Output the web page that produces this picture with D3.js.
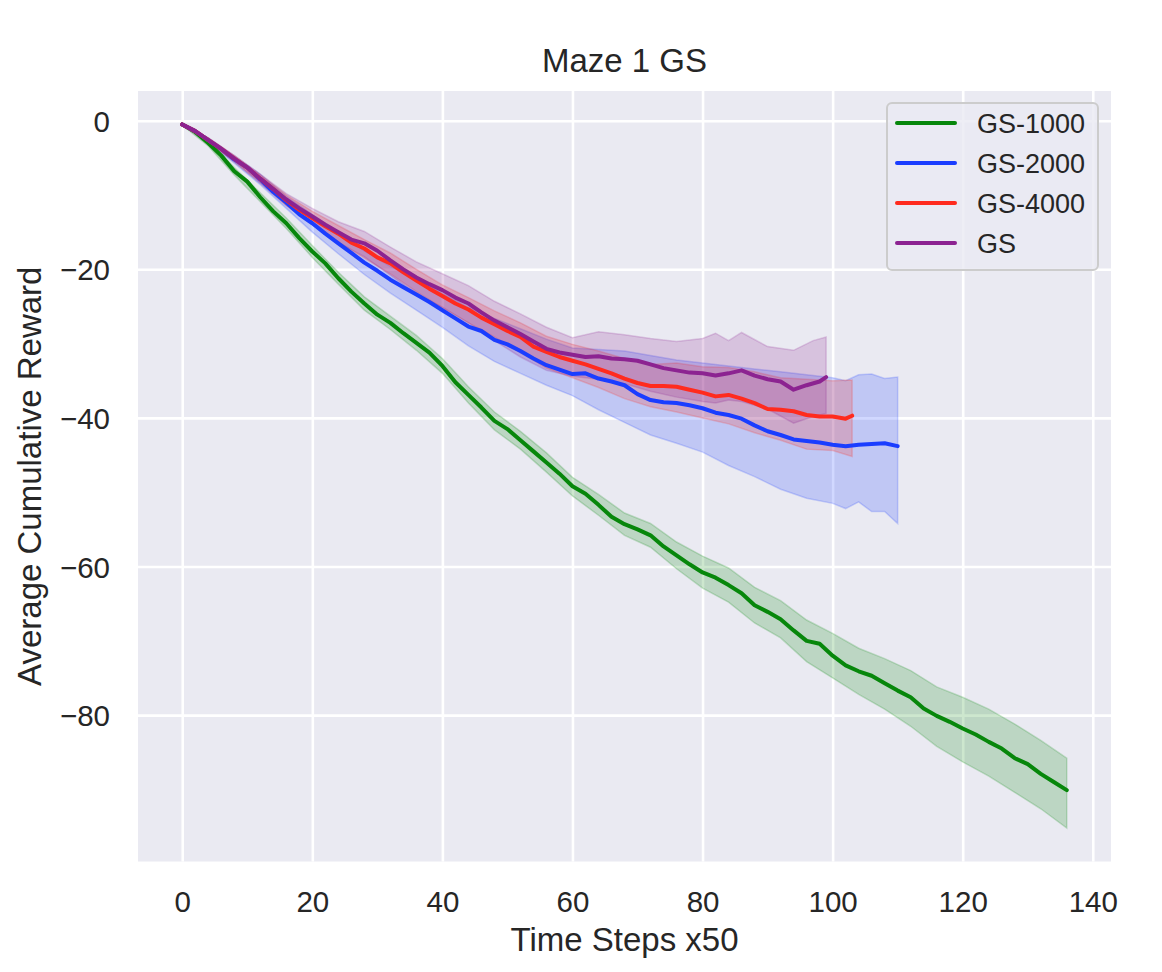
<!DOCTYPE html>
<html>
<head>
<meta charset="utf-8">
<script src="https://cdn.jsdelivr.net/npm/d3@7/dist/d3.min.js"></script>
<style>
  html, body { margin: 0; padding: 0; background: #fff; }
  svg { display: block; font-family: "Liberation Sans", Arial, sans-serif; }
</style>
</head>
<body>
<div id="chart"></div>
<script>
// mean curves, [time step, reward]
const gs1000 = [
  [0, -0.5], [2, -1.5], [4, -3.0], [6, -4.7], [8, -6.8], [10, -8.2], [12, -10.3], [14, -12.2],
  [16, -13.8], [18, -15.8], [20, -17.6], [22, -19.2], [24, -21.2], [26, -23.0], [28, -24.6],
  [30, -26.1], [32, -27.2], [34, -28.6], [36, -29.9], [38, -31.2], [40, -33.0], [42, -35.2],
  [44, -36.9], [46, -38.6], [48, -40.4], [50, -41.5], [52, -43.0], [54, -44.5], [56, -46.0],
  [58, -47.5], [60, -49.2], [62, -50.2], [64, -51.7], [66, -53.3], [68, -54.3], [70, -55.0],
  [72, -55.8], [74, -57.3], [76, -58.5], [78, -59.7], [80, -60.8], [82, -61.5], [84, -62.5],
  [86, -63.6], [88, -65.2], [90, -66.1], [92, -67.1], [94, -68.6], [96, -70.0], [98, -70.4],
  [100, -72.0], [102, -73.3], [104, -74.1], [106, -74.7], [108, -75.7], [110, -76.7],
  [112, -77.6], [114, -79.1], [116, -80.1], [118, -80.9], [120, -81.8], [122, -82.6],
  [124, -83.6], [126, -84.5], [128, -85.8], [130, -86.6], [132, -87.9], [134, -89.0], [136, -90.1]
];
const gs2000 = [
  [0, -0.5], [2, -1.4], [4, -2.6], [6, -3.8], [8, -5.2], [10, -6.3], [12, -7.9], [14, -9.6],
  [16, -11.0], [18, -12.6], [20, -13.8], [22, -15.2], [24, -16.5], [26, -17.8], [28, -19.1],
  [30, -20.2], [32, -21.4], [34, -22.4], [36, -23.4], [38, -24.4], [40, -25.5], [42, -26.6],
  [44, -27.7], [46, -28.3], [48, -29.5], [50, -30.1], [52, -31.0], [54, -32.0], [56, -32.9],
  [58, -33.5], [60, -34.1], [62, -34.0], [64, -34.7], [66, -35.1], [68, -35.6], [70, -36.8],
  [72, -37.6], [74, -37.9], [76, -38.0], [78, -38.3], [80, -38.7], [82, -39.3], [84, -39.6],
  [86, -40.1], [88, -41.0], [90, -41.8], [92, -42.3], [94, -42.9], [96, -43.1], [98, -43.3],
  [100, -43.6], [102, -43.8], [104, -43.6], [106, -43.5], [108, -43.4], [110, -43.8]
];
const gs4000 = [
  [0, -0.5], [2, -1.4], [4, -2.6], [6, -3.8], [8, -5.1], [10, -6.3], [12, -7.8], [14, -9.2],
  [16, -10.7], [18, -12.0], [20, -13.1], [22, -14.2], [24, -15.2], [26, -16.4], [28, -17.2],
  [30, -18.4], [32, -19.2], [34, -20.4], [36, -21.5], [38, -22.6], [40, -23.6], [42, -24.6],
  [44, -25.4], [46, -26.5], [48, -27.4], [50, -28.3], [52, -29.1], [54, -30.4], [56, -31.1],
  [58, -31.8], [60, -32.3], [62, -32.8], [64, -33.4], [66, -34.0], [68, -34.7], [70, -35.3],
  [72, -35.7], [74, -35.7], [76, -35.8], [78, -36.2], [80, -36.6], [82, -37.1], [84, -36.9],
  [86, -37.4], [88, -38.0], [90, -38.8], [92, -38.9], [94, -39.1], [96, -39.6], [98, -39.8],
  [100, -39.8], [102, -40.1], [103, -39.7]
];
const gsPlain = [
  [0, -0.5], [2, -1.4], [4, -2.6], [6, -3.8], [8, -5.1], [10, -6.3], [12, -7.8], [14, -9.2],
  [16, -10.6], [18, -11.8], [20, -12.9], [22, -14.0], [24, -15.0], [26, -16.0], [28, -16.5],
  [30, -17.5], [32, -18.8], [34, -20.0], [36, -21.1], [38, -22.0], [40, -22.8], [42, -23.8],
  [44, -24.6], [46, -25.8], [48, -26.9], [50, -27.8], [52, -28.7], [54, -29.7], [56, -30.7],
  [58, -31.2], [60, -31.5], [62, -31.8], [64, -31.7], [66, -32.0], [68, -32.1], [70, -32.3],
  [72, -32.8], [74, -33.3], [76, -33.6], [78, -33.9], [80, -34.0], [82, -34.3], [84, -34.0],
  [86, -33.6], [88, -34.3], [90, -34.8], [92, -35.1], [94, -36.2], [96, -35.6], [98, -35.1],
  [99, -34.5]
];

// shaded spread, [time step, lower, upper]
const band1000 = [
  [0, -0.6, -0.4], [4, -3.4, -2.6], [8, -7.3, -6.3], [12, -10.9, -9.7], [16, -14.5, -13.1],
  [20, -18.4, -16.8], [24, -22.0, -20.4], [28, -25.5, -23.7], [32, -28.1, -26.3],
  [36, -30.9, -28.9], [40, -34.0, -32.0], [44, -38.0, -35.8], [48, -41.6, -39.2],
  [52, -44.2, -41.8], [56, -47.3, -44.7], [60, -50.5, -48.0], [64, -53.1, -50.3],
  [68, -55.8, -52.8], [72, -57.4, -54.2], [76, -60.3, -56.7], [80, -62.9, -58.6],
  [84, -64.8, -60.2], [88, -67.6, -62.8], [92, -69.6, -64.6], [96, -72.8, -67.2],
  [100, -75.0, -69.0], [104, -77.2, -71.0], [108, -79.2, -72.4], [112, -81.5, -74.0],
  [116, -84.2, -76.2], [120, -86.3, -77.6], [124, -88.2, -79.2], [128, -90.4, -81.2],
  [132, -92.6, -83.4], [136, -95.2, -85.8]
];
const band2000 = [
  [0, -0.6, -0.4], [4, -2.9, -2.3], [8, -5.7, -4.7], [12, -8.6, -7.2], [16, -11.8, -10.2],
  [20, -15.0, -12.6], [24, -17.9, -15.1], [28, -20.7, -17.5], [32, -23.2, -19.6],
  [36, -25.5, -21.3], [40, -27.8, -23.2], [44, -30.3, -25.1], [48, -32.4, -26.6],
  [52, -34.0, -28.0], [56, -35.6, -29.4], [60, -37.0, -30.6], [64, -38.9, -30.8],
  [68, -40.6, -31.0], [72, -42.3, -31.6], [76, -43.4, -32.2], [80, -44.6, -32.6],
  [84, -46.4, -33.0], [88, -47.9, -33.4], [92, -49.6, -33.8], [96, -50.8, -34.2],
  [100, -51.5, -34.6], [102, -52.2, -35.0], [104, -51.3, -34.2], [106, -52.6, -34.1],
  [108, -52.6, -34.7], [110, -54.2, -34.5]
];
const band4000 = [
  [0, -0.6, -0.4], [4, -2.9, -2.3], [8, -5.5, -4.7], [12, -8.3, -7.3], [16, -11.4, -10.0],
  [20, -14.0, -12.2], [24, -16.3, -14.1], [28, -18.5, -16.0], [32, -20.6, -17.8],
  [36, -23.0, -20.0], [40, -25.2, -22.1], [44, -27.2, -23.8], [48, -29.1, -25.6],
  [52, -31.2, -27.2], [56, -33.3, -29.0], [60, -34.6, -30.1], [64, -35.9, -31.0],
  [68, -37.4, -32.0], [72, -38.5, -32.8], [76, -39.2, -32.6], [80, -40.0, -33.1],
  [84, -40.8, -33.2], [88, -42.0, -33.8], [92, -43.0, -34.6], [96, -44.2, -34.8],
  [100, -44.4, -35.0], [103, -45.2, -34.9]
];
const bandPlain = [
  [0, -0.6, -0.4], [4, -2.9, -2.3], [8, -5.5, -4.7], [12, -8.4, -7.2], [16, -11.4, -9.8],
  [20, -14.0, -11.8], [24, -16.4, -13.6], [28, -18.3, -14.9], [32, -20.8, -17.0],
  [36, -23.4, -19.0], [40, -25.1, -20.6], [44, -27.2, -22.2], [48, -29.6, -24.3],
  [52, -31.8, -26.0], [56, -33.6, -27.8], [60, -34.4, -29.2], [64, -34.8, -28.4],
  [68, -35.4, -28.8], [72, -36.4, -29.3], [76, -37.2, -29.7], [80, -37.8, -29.3],
  [82, -38.0, -28.6], [84, -37.6, -29.6], [86, -37.8, -28.5], [90, -38.8, -30.4],
  [94, -40.7, -30.9], [97, -39.8, -29.6], [99, -39.4, -29.1]
];

const seriesNames = ['GS-1000', 'GS-2000', 'GS-4000', 'GS'];
const seriesColors = ['#07870b', '#1a3dff', '#ff2b1e', '#8c2391'];
const seriesMeans = [gs1000, gs2000, gs4000, gsPlain];
const seriesBands = [band1000, band2000, band4000, bandPlain];

const xTicks = [0, 20, 40, 60, 80, 100, 120, 140];
const yTicks = [0, -20, -40, -60, -80];

const width = 1162;
const height = 972;
const plot = { left: 138, right: 1111, top: 91, bottom: 861.5 };
const textColor = '#262626';

const svg = d3.select('#chart').append('svg').attr('width', width).attr('height', height);

const x = d3.scaleLinear().domain([-6.8, 142.8]).range([plot.left, plot.right]);
const y = d3.scaleLinear().domain([-99.7, 4.0]).range([plot.bottom, plot.top]);

// seaborn darkgrid background
svg
  .append('rect')
  .attr('x', plot.left)
  .attr('y', plot.top)
  .attr('width', plot.right - plot.left)
  .attr('height', plot.bottom - plot.top)
  .attr('fill', '#eaeaf2');

const fmt = (d) => (d < 0 ? '\u2212' + Math.abs(d) : String(d));

const xAxis = svg
  .append('g')
  .attr('transform', `translate(0, ${plot.bottom})`)
  .call(d3.axisBottom(x).tickValues(xTicks).tickFormat(fmt).tickSize(-(plot.bottom - plot.top)).tickPadding(30));
const yAxis = svg
  .append('g')
  .attr('transform', `translate(${plot.left}, 0)`)
  .call(d3.axisLeft(y).tickValues(yTicks).tickFormat(fmt).tickSize(-(plot.right - plot.left)).tickPadding(28));

[xAxis, yAxis].forEach((ax) => {
  ax.select('.domain').remove();
  ax.selectAll('.tick line').attr('stroke', '#fff').attr('stroke-width', 2.6);
  ax.selectAll('.tick text')
    .attr('fill', textColor)
    .attr('font-size', 29.5)
    .attr('font-family', '"Liberation Sans", Arial, sans-serif');
});
xAxis.selectAll('.tick text').attr('dy', '0.71em');
yAxis.selectAll('.tick text').attr('dy', '0.36em');

svg
  .append('clipPath')
  .attr('id', 'plotClip')
  .append('rect')
  .attr('x', plot.left)
  .attr('y', plot.top)
  .attr('width', plot.right - plot.left)
  .attr('height', plot.bottom - plot.top);

const marks = svg.append('g').attr('clip-path', 'url(#plotClip)');

const area = d3
  .area()
  .x((d) => x(d[0]))
  .y0((d) => y(d[1]))
  .y1((d) => y(d[2]));
const line = d3
  .line()
  .x((d) => x(d[0]))
  .y((d) => y(d[1]));

seriesBands.forEach((band, i) => {
  marks
    .append('path')
    .attr('d', area(band))
    .attr('fill', seriesColors[i])
    .attr('fill-opacity', 0.2)
    .attr('stroke', seriesColors[i])
    .attr('stroke-opacity', 0.2)
    .attr('stroke-width', 1.5);
});

seriesMeans.forEach((pts, i) => {
  marks
    .append('path')
    .attr('d', line(pts))
    .attr('fill', 'none')
    .attr('stroke', seriesColors[i])
    .attr('stroke-width', 4)
    .attr('stroke-linejoin', 'round')
    .attr('stroke-linecap', 'round');
});

// titles
svg
  .append('text')
  .attr('x', (plot.left + plot.right) / 2)
  .attr('y', 72)
  .attr('text-anchor', 'middle')
  .attr('font-size', 33)
  .attr('fill', textColor)
  .text('Maze 1 GS');

svg
  .append('text')
  .attr('x', (plot.left + plot.right) / 2)
  .attr('y', 951)
  .attr('text-anchor', 'middle')
  .attr('font-size', 33)
  .attr('fill', textColor)
  .text('Time Steps x50');

svg
  .append('text')
  .attr('transform', `translate(41, ${(plot.top + plot.bottom) / 2}) rotate(-90)`)
  .attr('text-anchor', 'middle')
  .attr('font-size', 33)
  .attr('fill', textColor)
  .text('Average Cumulative Reward');

// legend
const legend = svg.append('g').attr('transform', 'translate(887, 103)');
legend
  .append('rect')
  .attr('width', 211)
  .attr('height', 167)
  .attr('rx', 5)
  .attr('fill', '#eaeaf2')
  .attr('fill-opacity', 0.8)
  .attr('stroke', '#cccccc')
  .attr('stroke-width', 2);

seriesNames.forEach((name, i) => {
  const row = legend.append('g').attr('transform', `translate(0, ${20 + i * 40})`);
  row
    .append('line')
    .attr('x1', 10)
    .attr('x2', 68)
    .attr('stroke', seriesColors[i])
    .attr('stroke-width', 4)
    .attr('stroke-linecap', 'round');
  row
    .append('text')
    .attr('x', 90)
    .attr('dy', '0.36em')
    .attr('font-size', 27)
    .attr('fill', textColor)
    .text(name);
});
</script>
</body>
</html>
